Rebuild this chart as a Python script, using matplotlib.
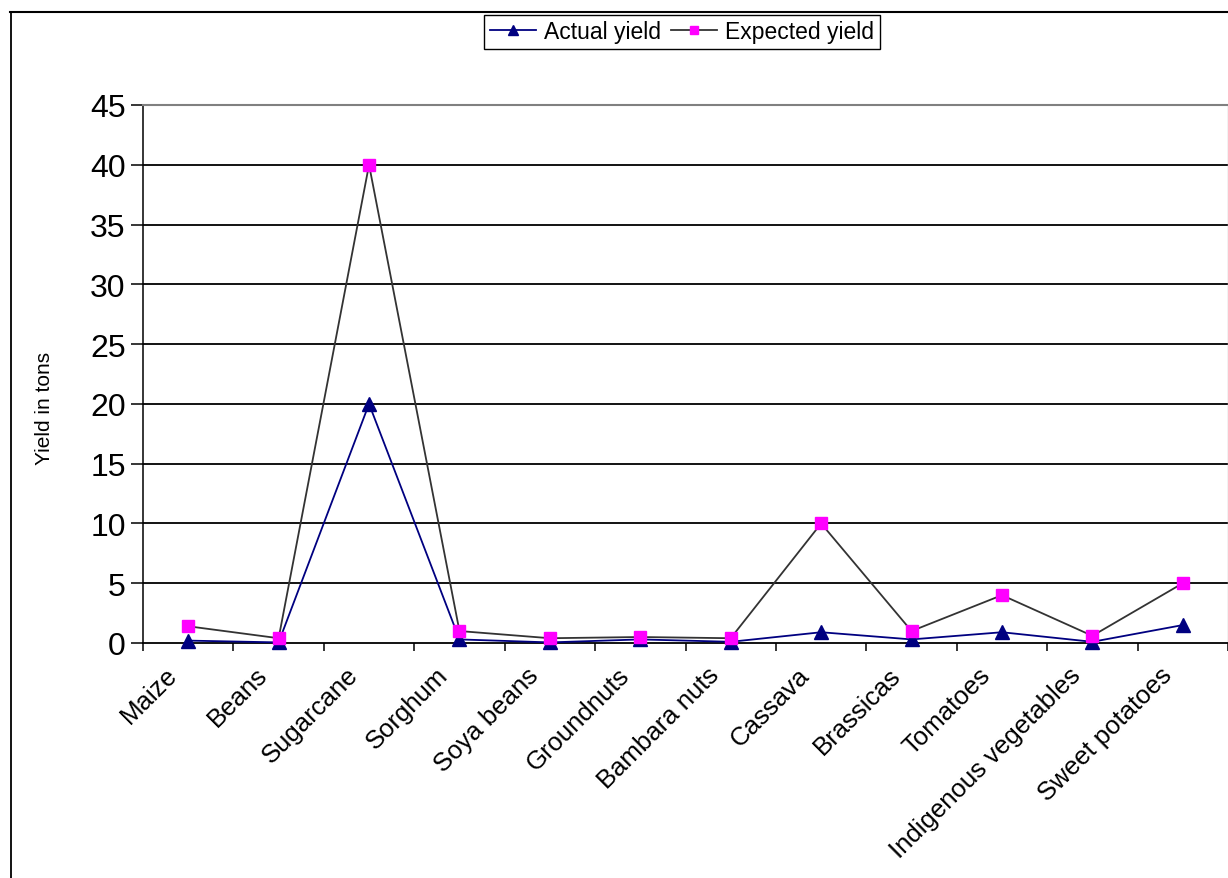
import matplotlib
matplotlib.use("Agg")
import matplotlib.pyplot as plt
from matplotlib.lines import Line2D
from matplotlib.transforms import ScaledTranslation
import numpy as np

plt.rcParams['font.family'] = ['Liberation Sans', 'DejaVu Sans']

categories = ["Maize", "Beans", "Sugarcane", "Sorghum", "Soya beans", "Groundnuts",
              "Bambara nuts", "Cassava", "Brassicas", "Tomatoes",
              "Indigenous vegetables", "Sweet potatoes"]
actual_yield = [0.2, 0.05, 20, 0.3, 0.05, 0.3, 0.1, 0.9, 0.3, 0.9, 0.1, 1.5]
expected_yield = [1.4, 0.4, 40, 1.0, 0.4, 0.5, 0.4, 10, 1.0, 4.0, 0.6, 5.0]
y_ticks = [0, 5, 10, 15, 20, 25, 30, 35, 40, 45]

W, H = 1228, 879
fig = plt.figure(figsize=(W / 100, H / 100), dpi=100)
fig.patch.set_facecolor('white')

left, right, top, bottom = 143, 1228, 106, 644
ax = fig.add_axes([left / W, 1 - bottom / H, (right - left) / W, (bottom - top) / H])

x = np.arange(len(categories))
ax.plot(x, actual_yield, color='#000080', lw=1.3, marker='^', ms=10,
        markerfacecolor='#000080', markeredgecolor='#000080', label='Actual yield', zorder=3,
        clip_on=False)
ax.plot(x, expected_yield, color='#333333', lw=1.3, marker='s', ms=8,
        markerfacecolor='#FF00FF', markeredgecolor='#FF00FF', label='Expected yield', zorder=4,
        clip_on=False)

ax.set_xlim(-0.5, len(categories) - 0.5)
ax.set_ylim(0, 45)
ax.set_yticks(y_ticks)
ax.set_yticklabels([str(v) for v in y_ticks], fontsize=23)
ax.tick_params(axis='y', direction='out', length=8.5, width=1.1, pad=4, color='black')

ax.set_xticks(x)
ax.set_xticklabels(categories, rotation=45, ha='right', va='center',
                   rotation_mode='anchor', fontsize=18.5)
ax.tick_params(axis='x', which='major', length=0, pad=20)
shift = ScaledTranslation(-15 / 100, 0, fig.dpi_scale_trans)
for lbl in ax.get_xticklabels():
    lbl.set_transform(lbl.get_transform() + shift)
ax.set_xticks(np.arange(-0.5, len(categories) + 0.5, 1), minor=True)
ax.tick_params(axis='x', which='minor', direction='out', length=5.5, width=1.1, color='black')

for v in y_ticks[1:-1]:
    ax.axhline(v, color='black', lw=1.3, zorder=1)

ax.spines['left'].set_color('black')
ax.spines['left'].set_linewidth(1.1)
ax.spines['bottom'].set_color('black')
ax.spines['bottom'].set_linewidth(1.3)
ax.spines['top'].set_color('#808080')
ax.spines['top'].set_linewidth(1.5)
ax.spines['right'].set_color('#C0C0C0')
ax.spines['right'].set_linewidth(1.0)

fig.text(45 / W, 1 - 408 / H, 'Yield in tons', rotation=90, ha='center', va='center',
         fontsize=15)

handles = [
    Line2D([], [], color='#000080', lw=1.3, marker='^', ms=7,
           markerfacecolor='#000080', markeredgecolor='#000080'),
    Line2D([], [], color='#333333', lw=1.3, marker='s', ms=6,
           markerfacecolor='#FF00FF', markeredgecolor='#FF00FF'),
]
leg = fig.legend(handles, ['Actual yield', 'Expected yield'], loc='center',
                 bbox_to_anchor=(682 / W, 1 - 33 / H), ncol=2, fontsize=16.5,
                 frameon=True, fancybox=False, edgecolor='black', framealpha=1,
                 handlelength=2.0, handletextpad=0.35, columnspacing=0.45,
                 borderpad=0.25, borderaxespad=0)
leg.get_frame().set_linewidth(1.0)

# outer chart frame (top and left edges visible)
fig.add_artist(Line2D([10.5 / W, 10.5 / W], [0, 1 - 13 / H], transform=fig.transFigure,
                      color='black', lw=1.3))
fig.add_artist(Line2D([10 / W, 1], [1 - 13 / H, 1 - 13 / H], transform=fig.transFigure,
                      color='black', lw=1.5))

fig.savefig('out.png', dpi=100)
